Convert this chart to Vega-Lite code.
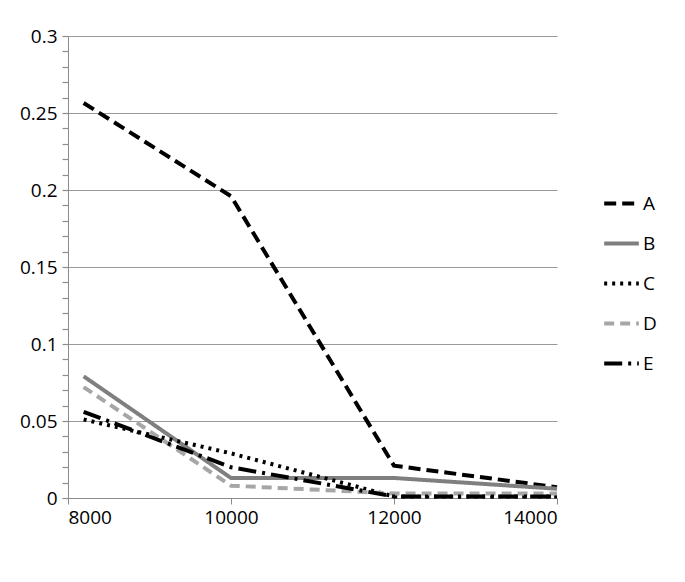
{
  "$schema": "https://vega.github.io/schema/vega-lite/v6.json",
  "width": 489,
  "height": 462,
  "autosize": "none",
  "padding": {"left": 68, "top": 36, "right": 128, "bottom": 84},
  "background": "white",
  "config": {"view": {"stroke": null}, "font": "Open Sans"},
  "data": {"values": [
    {"x": 8192, "y": 0.2565, "series": "A"},
    {"x": 10000, "y": 0.196, "series": "A"},
    {"x": 12000, "y": 0.021, "series": "A"},
    {"x": 14000, "y": 0.007, "series": "A"},
    {"x": 8192, "y": 0.079, "series": "B"},
    {"x": 10000, "y": 0.013, "series": "B"},
    {"x": 12000, "y": 0.013, "series": "B"},
    {"x": 14000, "y": 0.006, "series": "B"},
    {"x": 8192, "y": 0.051, "series": "C"},
    {"x": 10000, "y": 0.029, "series": "C"},
    {"x": 12000, "y": 0.001, "series": "C"},
    {"x": 14000, "y": 0.001, "series": "C"},
    {"x": 8192, "y": 0.072, "series": "D"},
    {"x": 10000, "y": 0.008, "series": "D"},
    {"x": 12000, "y": 0.003, "series": "D"},
    {"x": 14000, "y": 0.003, "series": "D"},
    {"x": 8192, "y": 0.056, "series": "E"},
    {"x": 10000, "y": 0.020, "series": "E"},
    {"x": 12000, "y": 0.001, "series": "E"},
    {"x": 14000, "y": 0.001, "series": "E"}
  ]},
  "mark": {"type": "line", "strokeWidth": 4, "strokeCap": "butt"},
  "encoding": {
    "x": {
      "field": "x", "type": "quantitative",
      "scale": {"domain": [8000, 14000], "nice": false, "zero": false},
      "axis": {
        "title": null, "values": [8000, 10000, 12000, 14000], "format": "d",
        "grid": false, "domainColor": "#8c8c8c", "tickColor": "#8c8c8c",
        "tickSize": 6, "labelFontSize": 19, "labelColor": "#000", "labelPadding": 4
      }
    },
    "y": {
      "field": "y", "type": "quantitative",
      "scale": {"domain": [0, 0.3], "nice": false},
      "axis": {
        "title": null,
        "values": [0, 0.01, 0.02, 0.03, 0.04, 0.05, 0.06, 0.07, 0.08, 0.09, 0.1, 0.11, 0.12, 0.13, 0.14, 0.15, 0.16, 0.17, 0.18, 0.19, 0.2, 0.21, 0.22, 0.23, 0.24, 0.25, 0.26, 0.27, 0.28, 0.29, 0.3],
        "labelExpr": "round(datum.value*100) % 5 == 0 ? format(datum.value, '~g') : ''",
        "gridOpacity": {"condition": {"test": "round(datum.value*100) % 5 == 0", "value": 1}, "value": 0},
        "gridColor": "#9a9a9a",
        "domainColor": "#8c8c8c", "tickColor": "#8c8c8c", "tickSize": 6, "tickWidth": 1.2,
        "labelFontSize": 19, "labelColor": "#000", "labelPadding": 5
      }
    },
    "color": {
      "field": "series", "type": "nominal",
      "scale": {"domain": ["A", "B", "C", "D", "E"], "range": ["#000000", "#7f7f7f", "#000000", "#a6a6a6", "#000000"]},
      "legend": {
        "title": null, "orient": "none", "legendX": 534, "legendY": 148,
        "symbolType": "stroke", "symbolStrokeWidth": 4, "symbolSize": 1200,
        "rowPadding": 10, "labelFontSize": 19, "labelColor": "#000", "labelOffset": 2
      }
    },
    "strokeDash": {
      "field": "series", "type": "nominal",
      "scale": {"domain": ["A", "B", "C", "D", "E"], "range": [[12, 6], [1, 0], [3, 5], [10, 6], [18, 6, 3, 6]]},
      "legend": {
        "title": null, "orient": "none", "legendX": 534, "legendY": 148,
        "symbolType": "stroke", "symbolStrokeWidth": 4, "symbolSize": 1200,
        "rowPadding": 10, "labelFontSize": 19, "labelColor": "#000", "labelOffset": 2
      }
    }
  }
}
